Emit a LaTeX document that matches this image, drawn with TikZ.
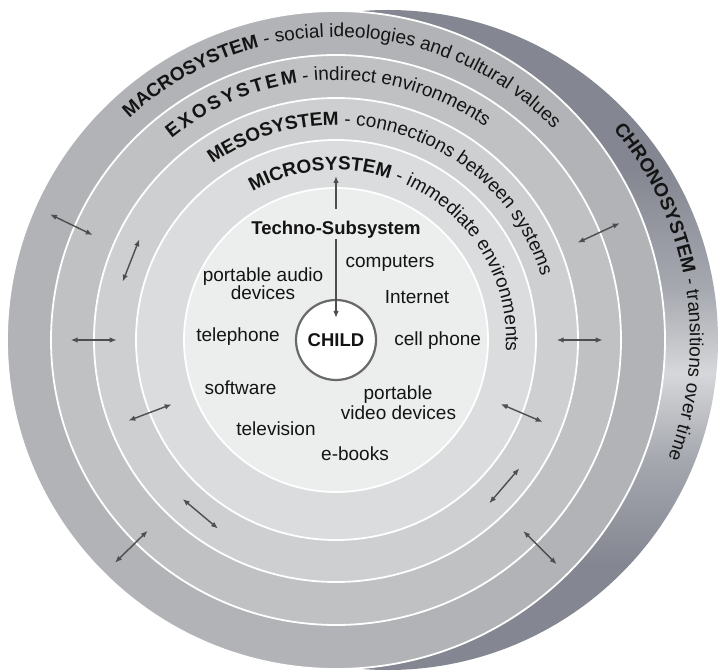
\documentclass[tikz,border=0pt]{standalone}
\usepackage{fontspec}
\setmainfont{Liberation Sans}
\usetikzlibrary{decorations.text,arrows.meta}
\definecolor{macroC}{RGB}{177,179,182}
\definecolor{exoC}{RGB}{192,193,195}
\definecolor{mesoC}{RGB}{206,207,208}
\definecolor{microC}{RGB}{219,220,221}
\definecolor{technoC}{RGB}{236,237,237}
\definecolor{chronoDark}{RGB}{132,135,145}
\definecolor{chronoMid}{RGB}{165,168,175}
\definecolor{chronoLight}{RGB}{214,215,218}
\definecolor{arrowC}{RGB}{78,78,78}
\definecolor{textC}{RGB}{20,20,20}
\definecolor{childline}{RGB}{105,105,105}
\pgfdeclareverticalshading{chronoshade}{100bp}{color(0bp)=(chronoDark); color(25bp)=(chronoDark); color(33bp)=(chronoDark); color(41bp)=(chronoMid); color(47.5bp)=(chronoLight); color(54bp)=(chronoMid); color(63bp)=(chronoDark); color(100bp)=(chronoDark)}
\begin{document}
\fontsize{19}{19}\selectfont
\begin{tikzpicture}[x=1pt,y=1pt,
  ring/.style={draw=white, line width=1.8pt},
  txt/.style={font=\fontsize{19}{19}\selectfont, text=textC, anchor=base, inner sep=0pt},
  btxt/.style={txt, font=\fontsize{18.5}{19}\selectfont\bfseries},
  tip/.style={Latex[length=7pt,width=5.5pt]},
  linkline/.style={draw=arrowC, line width=1.4pt},
  link/.style={linkline, {Latex[length=7pt,width=5.5pt]}-{Latex[length=7pt,width=5.5pt]}},
  childnode/.style={circle, draw=childline, line width=2.2pt, fill=white, minimum size=80pt, inner sep=0pt, text=textC, font=\fontsize{18.5}{19}\selectfont\bfseries},
]
\useasboundingbox (0,0) rectangle (720,670);
\coordinate (C) at (336,330);
\coordinate (B) at (388,330);
\coordinate (T) at (362,330);
% chronosystem (back disc)
\shade[shading=chronoshade] (B) circle[radius=330];
% rings
\fill[macroC] (C) circle[radius=329];
\draw[ring] (C) circle[radius=329];
\fill[exoC] (C) circle[radius=285];
\draw[ring] (C) circle[radius=285];
\fill[mesoC] (C) circle[radius=242];
\draw[ring] (C) circle[radius=242];
\fill[microC] (C) circle[radius=200];
\draw[ring] (C) circle[radius=200];
\fill[technoC] (C) circle[radius=152];
\draw[ring] (C) circle[radius=152];
% child and techno-subsystem
\node[childnode] (child) at (C) {CHILD};
\node[btxt, inner sep=0pt, text height=25pt, text depth=5pt] (techno) at (336,435.7) {Techno-Subsystem};
\coordinate (mtop) at (336,494);
\draw[linkline, {Latex[length=7pt,width=5.5pt]}-] (mtop) -- (techno.north);
\draw[linkline, -{Latex[length=7pt,width=5.5pt]}, shorten >=22pt] (techno.south) -- (child.center);
% inner labels
\node[txt] (computers) at (390,402.3) {computers};
\node[txt] (audio1) at (263,388.3) {portable audio};
\node[txt] (audio2) at (263,370) {devices};
\node[txt] (internet) at (417,366.7) {Internet};
\node[txt] (telephone) at (238,328.3) {telephone};
\node[txt] (cell) at (437.7,324) {cell phone};
\node[txt] (software) at (240.5,275.7) {software};
\node[txt] (video1) at (398,270) {portable};
\node[txt] (video2) at (398.5,251) {video devices};
\node[txt] (tv) at (276,235) {television};
\node[txt] (ebooks) at (355,209.3) {e-books};
% ring-to-ring arrows
\draw[link] (50,455.7) -- (92.7,435);
\draw[link] (139.3,430.7) -- (122.7,388.3);
\draw[link] (70.7,330) -- (116.7,330);
\draw[link] (128.3,249.3) -- (171.7,265.7);
\draw[link] (182.7,171) -- (218,141.4);
\draw[link] (147.7,139.3) -- (115,107.3);
\draw[link] (556.7,330) -- (602.7,330);
\draw[link] (500.7,266) -- (542.7,248);
\draw[link] (519.3,201.7) -- (489.3,166.7);
\draw[link] (523.3,139) -- (556.7,105.7);
\draw[link] (577.6,427.3) -- (619.8,446.9);
% curved texts
\path[decorate, decoration={text along path, text color=textC, text align=left,
  text={|\fontsize{19}{19}\selectfont\bfseries|MACROSYSTEM|\fontsize{19}{19}\selectfont\mdseries| - social ideologies and cultural values}}]
  ([shift={(133:303)}]C) arc[start angle=133, end angle=20, radius=303];
\path[decorate, decoration={text along path, text color=textC, text align=fit to path,
  text={|\fontsize{19}{19}\selectfont\bfseries|EXOSYSTEM}}]
  ([shift={(129.2:260)}]C) arc[start angle=129.2, end angle=98.5, radius=260];
\path[decorate, decoration={text along path, text color=textC, text align=left,
  text={|\fontsize{19}{19}\selectfont\mdseries| - indirect environments}}]
  ([shift={(98.5:260)}]C) arc[start angle=98.5, end angle=20, radius=260];
\path[decorate, decoration={text along path, text color=textC, text align=left,
  text={|\fontsize{19}{19}\selectfont\bfseries|MESOSYSTEM|\fontsize{19}{19}\selectfont\mdseries| - connections between systems}}]
  ([shift={(125:215)}]C) arc[start angle=125, end angle=-10, radius=215];
\path[decorate, decoration={text along path, text color=textC, text align=left,
  text={|\fontsize{19}{19}\selectfont\bfseries|MICROSYSTEM|\fontsize{19}{19}\selectfont\mdseries| - immediate environments}}]
  ([shift={(119.3:170)}]C) arc[start angle=119.3, end angle=-40, radius=170];
\path[decorate, decoration={text along path, text color=textC, text align=left,
  text={|\fontsize{19}{19}\selectfont\bfseries|CHRONOSYSTEM|\fontsize{19}{19}\selectfont\mdseries| - transitions over time}}]
  ([shift={(40:328)}]T) arc[start angle=40, end angle=-40, radius=328];
\end{tikzpicture}
\end{document}
